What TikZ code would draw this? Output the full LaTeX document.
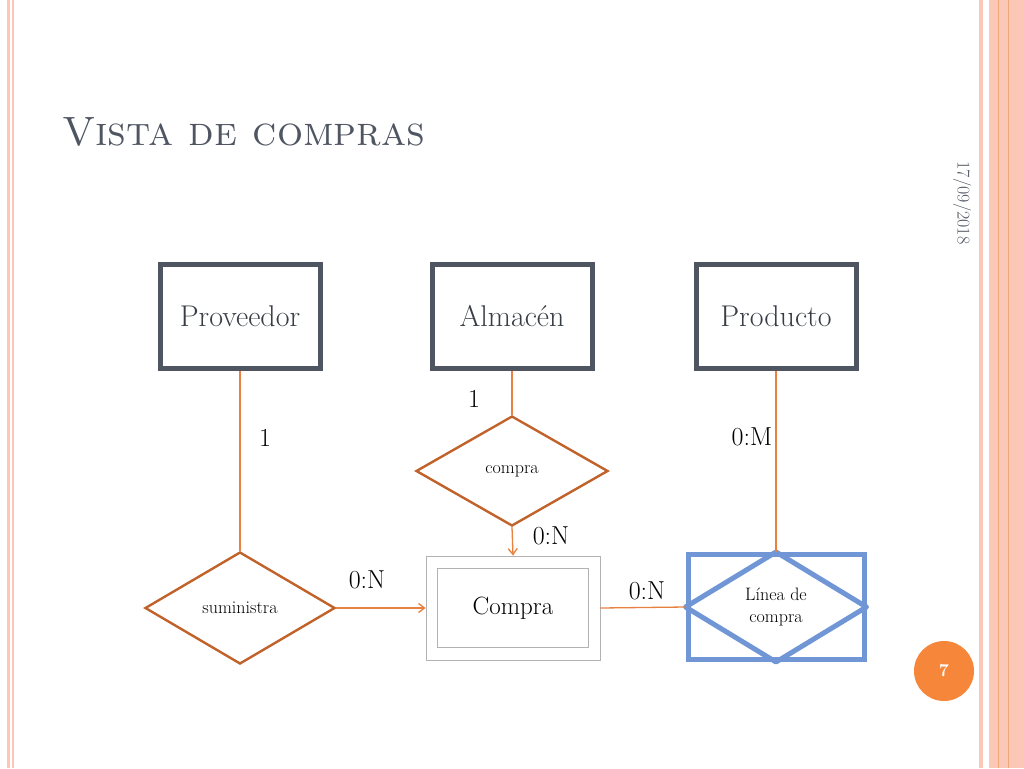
\documentclass[tikz,border=0pt]{standalone}
\usetikzlibrary{shapes.geometric,arrows.meta}
\definecolor{inkgray}{HTML}{4F5662}
\definecolor{relorange}{HTML}{C0622A}
\definecolor{lineorange}{HTML}{E8803F}
\definecolor{pageorange}{HTML}{F5863A}
\definecolor{weakblue}{HTML}{7096D6}
\definecolor{pinkband}{HTML}{FBC8B8}
\tikzset{
  entity/.style={draw=inkgray,line width=5pt,minimum width=160pt,minimum height=104pt,font=\fontsize{30}{32}\selectfont,text=inkgray!70!black},
  relation/.style={diamond,draw=relorange,line width=2.4pt,inner sep=0pt,font=\fontsize{18}{20}\selectfont},
  link/.style={draw=lineorange,line width=1.3pt},
  card/.style={font=\fontsize{26}{28}\selectfont}
}
\begin{document}
\begin{tikzpicture}[x=1pt,y=-1pt]
\useasboundingbox (0,0) rectangle (1024,768);
% borders
\fill[pinkband] (7,0) rectangle (10,768);
\fill[pinkband] (12,0) rectangle (14,768);
\fill[pinkband] (979,0) rectangle (983,768);
\fill[pinkband] (989,0) rectangle (1024,768);
\draw[lineorange!70,line width=0.8pt] (998,0) -- (998,768);
\draw[lineorange!70,line width=0.8pt] (1008,0) -- (1008,768);
% title and date
\node[anchor=base west,text=inkgray,font=\fontsize{41}{43}\selectfont\scshape,inner sep=0pt] (title) at (62,145) {Vista de compras};
\node[rotate=-90,text=inkgray,font=\fontsize{18}{20}\selectfont] (date) at (962,203) {17/09/2018};
% entities
\node[entity] (prov) at (240,316) {Proveedor};
\node[entity] (alm) at (512,316) {Almac\'en};
\node[entity] (prod) at (776,316) {Producto};
% relations
\node[relation,minimum width=192pt,minimum height=110pt] (compra) at (512,471) {compra};
\node[relation,minimum width=190pt,minimum height=112pt] (sumi) at (240,608) {suministra};
% weak entity
\node[draw=gray!60,line width=0.8pt,minimum width=174pt,minimum height=104pt] (comprabox) at (513,608) {};
\node[draw=gray!60,line width=0.8pt,minimum width=151pt,minimum height=79pt,font=\fontsize{25}{27}\selectfont] (compraent) at (513,608) {Compra};
% weak relation
\node[draw=weakblue,line width=5pt,minimum width=176pt,minimum height=105pt] (linea) at (776,607) {};
\draw[weakblue,line width=5pt,line join=round] (linea.west) -- (linea.north) -- (linea.east) -- (linea.south) -- cycle;
\node[align=center,font=\fontsize{18}{22}\selectfont] (lineatxt) at (776,607) {L\'inea de\\compra};
% connectors
\draw[link] (prov.south) -- (sumi.north);
\draw[link] (alm.south) -- (compra.north);
\draw[link,-{Straight Barb[length=6pt,width=9pt]}] (compra.south) -- (comprabox.north);
\draw[link,-{Straight Barb[length=6pt,width=9pt]}] (sumi.east) -- (comprabox.west);
\draw[link] (comprabox.east) -- (linea.west);
\draw[link] (prod.south) -- (linea.north);
% cardinalities
\node[card] (c1) at (265,438) {1};
\node[card] (c2) at (474,399) {1};
\node[card] (c3) at (752,437) {0:M};
\node[card] (c4) at (551,536) {0:N};
\node[card] (c5) at (367,580) {0:N};
\node[card] (c6) at (647,591) {0:N};
% page number
\node[circle,fill=pageorange,minimum size=60pt,text=white,font=\fontsize{18}{20}\selectfont\bfseries] (page) at (944,671) {7};
\end{tikzpicture}
\end{document}
